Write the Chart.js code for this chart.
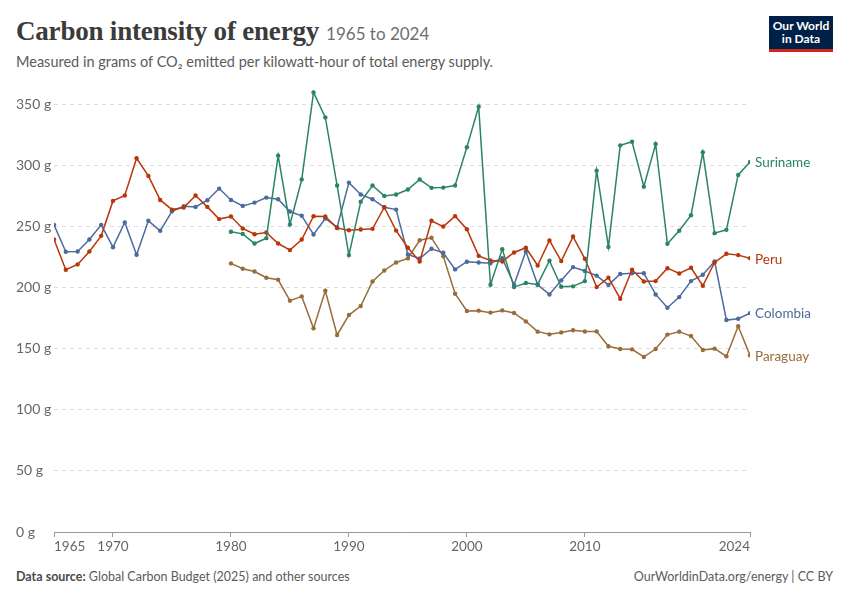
<!DOCTYPE html>
<html>
<head>
<meta charset="utf-8">
<script src="https://cdn.jsdelivr.net/npm/chart.js@4"></script>
<style>
  body { margin: 0; width: 850px; height: 600px; background: #fff; font-family: Lato, sans-serif; position: relative; overflow: hidden; }
  .title { position: absolute; left: 16px; top: 16px; white-space: nowrap; }
  .title h1 { display: inline; font-family: "Liberation Serif", serif; font-weight: bold; font-size: 27px; color: #3b3b3b; margin: 0; letter-spacing: -0.2px; }
  .title span { font-size: 17px; color: #6e6e6e; margin-left: 7px; }
  .subtitle { position: absolute; left: 16px; top: 53px; font-size: 14.5px; color: #5b5b5b; white-space: nowrap; }
  .logo { position: absolute; left: 769px; top: 16px; width: 64px; background: #002147; border-bottom: 3px solid #ce261e; color: #fff; font-weight: bold; font-size: 12px; line-height: 13px; text-align: center; padding-top: 3px; box-sizing: content-box; height: 30px; }
  .chart-box { position: absolute; left: 0; top: 73px; width: 850px; height: 487px; }
  .footer { position: absolute; top: 569px; font-size: 12.5px; color: #5b5b5b; white-space: nowrap; }
  .footer.left { left: 16px; }
  .footer.right { right: 17px; }
  .footer b { color: #4b4b4b; }
</style>
</head>
<body>
<div class="title"><h1>Carbon intensity of energy</h1><span>1965 to 2024</span></div>
<div class="subtitle">Measured in grams of CO₂ emitted per kilowatt-hour of total energy supply.</div>
<div class="logo">Our World<br>in Data</div>
<div class="chart-box"><canvas id="intensityChart"></canvas></div>
<div class="footer left"><b>Data source:</b> Global Carbon Budget (2025) and other sources</div>
<div class="footer right">OurWorldinData.org/energy | CC BY</div>

<script>
const years = [1965, 1966, 1967, 1968, 1969, 1970, 1971, 1972, 1973, 1974,
  1975, 1976, 1977, 1978, 1979, 1980, 1981, 1982, 1983, 1984,
  1985, 1986, 1987, 1988, 1989, 1990, 1991, 1992, 1993, 1994,
  1995, 1996, 1997, 1998, 1999, 2000, 2001, 2002, 2003, 2004,
  2005, 2006, 2007, 2008, 2009, 2010, 2011, 2012, 2013, 2014,
  2015, 2016, 2017, 2018, 2019, 2020, 2021, 2022, 2023, 2024];

// grams CO2 per kWh, 1965-2024
const colombia = [251.6, 229.5, 229.8, 239.6, 251.6, 233.3, 253.5, 227.1, 254.9, 246.7,
  262.7, 266.8, 266.3, 271.8, 281.3, 272, 267.1, 269.8, 273.9, 272.6,
  262.5, 259, 243.7, 256.8, 249.7, 286.2, 276.5, 272.6, 266, 264.1,
  227.3, 224, 232, 228.7, 215.1, 221.4, 220.8, 220.1, 224.3, 202.5,
  230, 202.5, 194.6, 206.1, 217, 213.8, 210, 202.4, 211.3, 212,
  212, 194.6, 183.7, 192.4, 205.5, 210.7, 221.6, 173.6, 174.7, 179.3];

const peru = [239.6, 214.8, 219.2, 229.8, 242.6, 271.2, 275.6, 306.1, 291.7, 272,
  264.1, 265.8, 275.6, 266.3, 256.3, 258.4, 248.6, 243.9, 245.3, 236.3,
  230.9, 239.6, 258.7, 258.4, 248.9, 247.2, 247.8, 248.3, 266, 246.9,
  232.8, 221.6, 254.9, 250.2, 258.7, 248, 226.2, 222.4, 221.6, 229,
  232.8, 218.3, 238.8, 221.9, 242, 223.8, 200.6, 208.4, 191.1, 214.8,
  205.2, 205.5, 216.1, 211.8, 216.4, 201.7, 220.8, 227.9, 226.8, 224.3];

// no data before 1980
const suriname = [null, null, null, null, null, null, null, null, null, null,
  null, null, null, null, null, 246, 244.2, 236.3, 240.7, 308.3,
  251.9, 288.7, 360.1, 339.6, 283.8, 226.8, 270.5, 283.8, 275.3, 276.4,
  280.5, 288.7, 281.9, 282.1, 283.8, 315.1, 348.4, 202.5, 231.7, 200.6,
  203.9, 202.8, 222.2, 200.9, 201.2, 205.5, 296, 233.5, 316.7, 319.7,
  282.9, 317.8, 236.1, 246.7, 259.5, 311, 244.8, 247.5, 292.5, 303.1];

const paraguay = [null, null, null, null, null, null, null, null, null, null,
  null, null, null, null, null, 220, 215.6, 213.4, 208.3, 206.6,
  189.5, 193, 166.8, 197.6, 161.4, 177.7, 185.1, 205.2, 214.2, 220.8,
  224.1, 239, 241, 225.9, 195.2, 181, 181.3, 179.7, 181.5, 179.4,
  172.5, 164.1, 161.9, 163.5, 165.2, 164.2, 164.3, 152.1, 149.9, 149.6,
  143.4, 149.9, 161.7, 164.1, 160.5, 149.1, 150.2, 143.9, 168.5, 144.7];

const xTicks = [1965, 1970, 1980, 1990, 2000, 2010, 2024];
const yTicks = [0, 50, 100, 150, 200, 250, 300, 350];

const seriesNames = ['Suriname', 'Peru', 'Colombia', 'Paraguay'];
const seriesValues = [suriname, peru, colombia, paraguay];
const seriesColors = ['#2c8465', '#b8370a', '#4c6a9c', '#996d39'];

document.addEventListener('DOMContentLoaded', function() {
  const ctx = document.getElementById('intensityChart');

  // country names next to the last point of each line
  const endLabels = {
    id: 'endLabels',
    afterDatasetsDraw: function(chart) {
      const c = chart.ctx;
      c.save();
      c.font = '13.5px Lato, sans-serif';
      c.textBaseline = 'middle';
      c.textAlign = 'left';
      chart.data.datasets.forEach((ds, i) => {
        const meta = chart.getDatasetMeta(i);
        const last = meta.data[meta.data.length - 1];
        c.fillStyle = ds.borderColor;
        c.fillText(ds.label, last.x + 5, last.y + 1);
      });
      c.restore();
    }
  };

  const datasets = seriesNames.map((name, i) => ({
    label: name,
    data: years.map((yr, j) => ({ x: yr, y: seriesValues[i][j] })),
    borderColor: seriesColors[i],
    backgroundColor: seriesColors[i],
    borderWidth: 1.5,
    pointRadius: 2.2,
    pointBorderWidth: 0,
    tension: 0,
    spanGaps: false
  }));

  new Chart(ctx, {
    type: 'line',
    data: { datasets: datasets },
    options: {
      responsive: true,
      maintainAspectRatio: false,
      animation: false,
      layout: {
        padding: { left: 16, right: 100, top: 0, bottom: 0 }
      },
      scales: {
        x: {
          type: 'linear',
          min: 1965,
          max: 2024,
          afterBuildTicks: function(scale) {
            scale.ticks = xTicks.map(v => ({ value: v }));
          },
          afterFit: function(scale) {
            scale.height = 28;
          },
          grid: {
            drawOnChartArea: false,
            drawTicks: true,
            tickLength: 5,
            color: '#9a9a9a'
          },
          border: { display: true, color: '#9a9a9a' },
          ticks: {
            align: 'inner',
            color: '#666',
            padding: 2,
            maxRotation: 0,
            font: { family: 'Lato', size: 13.5 },
            callback: function(value) {
              return String(value);
            }
          }
        },
        y: {
          min: 0,
          max: 365,
          afterBuildTicks: function(scale) {
            scale.ticks = yTicks.map(v => ({ value: v }));
          },
          afterFit: function(scale) {
            scale.width = 38;
          },
          grid: {
            color: '#dddddd',
            drawTicks: false
          },
          border: { display: false, dash: [4, 4] },
          ticks: {
            crossAlign: 'far',
            padding: 5,
            color: '#666',
            font: { family: 'Lato', size: 14 },
            callback: function(value) {
              return value + ' g';
            }
          }
        }
      },
      plugins: {
        legend: { display: false },
        tooltip: { enabled: false }
      }
    },
    plugins: [endLabels]
  });
});
</script>
</body>
</html>
